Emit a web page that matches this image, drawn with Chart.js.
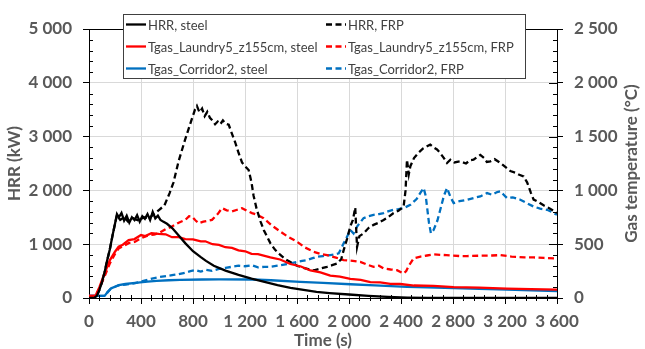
<!DOCTYPE html>
<html>
<head>
<meta charset="utf-8">
<script src="https://cdn.jsdelivr.net/npm/chart.js@4"></script>
<style>
  html, body { margin: 0; padding: 0; background: #fff; }
  canvas { display: block; }
</style>
</head>
<body>
<canvas id="fireChart" width="645" height="349"></canvas>
<script>
// time (s) and HRR (kW)
const hrrSteelT = [0, 40, 60, 80, 100, 120, 140, 160, 180, 200, 215, 230, 250, 270, 290, 310, 330, 350, 370, 390, 410, 430, 450, 470, 490, 510, 530, 550, 570, 600, 640, 690, 740, 800, 860, 900, 960, 1050, 1150, 1250, 1350, 1450, 1550, 1650, 1750, 1850, 2000, 2150, 2300, 2450, 2600, 3600];
const hrrSteel  = [0, 0, 40, 150, 300, 480, 700, 900, 1150, 1380, 1560, 1500, 1580, 1440, 1530, 1400, 1500, 1450, 1540, 1420, 1520, 1470, 1560, 1450, 1600, 1480, 1530, 1450, 1420, 1380, 1300, 1160, 1020, 870, 760, 690, 600, 510, 430, 360, 300, 240, 190, 150, 112, 90, 65, 40, 20, 8, 0, 0];

const hrrFrpT = [0, 40, 60, 80, 100, 120, 140, 160, 180, 200, 215, 240, 270, 300, 340, 380, 420, 460, 500, 540, 580, 620, 650, 690, 740, 790, 815, 830, 850, 870, 890, 910, 930, 950, 970, 990, 1010, 1030, 1050, 1075, 1100, 1125, 1150, 1177, 1200, 1228, 1250, 1266, 1290, 1320, 1345, 1395, 1430, 1472, 1510, 1549, 1600, 1650, 1700, 1730, 1770, 1831, 1870, 1908, 1940, 1959, 1985, 2010, 2030, 2048, 2055, 2062, 2080, 2112, 2150, 2189, 2230, 2266, 2300, 2343, 2380, 2420, 2435, 2446, 2460, 2472, 2500, 2535, 2570, 2600, 2625, 2650, 2677, 2700, 2730, 2754, 2780, 2810, 2856, 2900, 2930, 2958, 2985, 3010, 3040, 3060, 3087, 3120, 3164, 3200, 3241, 3280, 3310, 3343, 3370, 3400, 3420, 3445, 3472, 3500, 3530, 3560, 3600];
const hrrFrp  = [0, 0, 40, 150, 300, 480, 700, 900, 1150, 1380, 1540, 1450, 1500, 1420, 1480, 1440, 1500, 1480, 1560, 1640, 1720, 1950, 2150, 2550, 2950, 3320, 3500, 3570, 3450, 3520, 3380, 3460, 3350, 3300, 3230, 3280, 3230, 3300, 3240, 3220, 3050, 2890, 2700, 2520, 2450, 2380, 2150, 1900, 1650, 1420, 1260, 1020, 900, 800, 720, 670, 600, 560, 530, 515, 540, 580, 610, 640, 720, 890, 1100, 1330, 1450, 1680, 1300, 950, 1150, 1200, 1300, 1360, 1400, 1450, 1500, 1580, 1620, 1700, 2000, 2570, 2300, 2450, 2600, 2700, 2780, 2820, 2850, 2800, 2760, 2700, 2600, 2510, 2570, 2520, 2540, 2500, 2560, 2570, 2620, 2660, 2600, 2530, 2540, 2580, 2510, 2440, 2360, 2330, 2290, 2260, 2150, 1950, 1830, 1800, 1760, 1720, 1680, 1640, 1580];

// time (s) and gas temperature (°C)
const laundrySteelT = [0, 50, 80, 120, 160, 200, 228, 260, 305, 350, 400, 433, 480, 536, 590, 638, 690, 741, 800, 860, 895, 950, 1000, 1049, 1100, 1150, 1202, 1250, 1300, 1395, 1470, 1549, 1630, 1703, 1780, 1856, 1930, 2010, 2090, 2164, 2240, 2318, 2394, 2500, 2650, 2805, 3000, 3215, 3400, 3600];
const laundrySteel  = [20, 20, 100, 230, 350, 430, 477, 495, 539, 548, 585, 576, 603, 595, 592, 565, 566, 548, 545, 526, 527, 500, 494, 472, 466, 442, 434, 410, 408, 378, 358, 316, 293, 256, 238, 208, 198, 178, 168, 148, 145, 132, 130, 116, 112, 101, 97, 87, 83, 78];

const laundryFrpT = [0, 50, 80, 120, 160, 200, 228, 260, 305, 355, 400, 450, 500, 536, 590, 638, 690, 741, 770, 792, 820, 843, 880, 946, 990, 1023, 1060, 1100, 1140, 1177, 1215, 1254, 1300, 1343, 1400, 1472, 1530, 1600, 1660, 1728, 1780, 1831, 1900, 1959, 2030, 2087, 2140, 2189, 2230, 2266, 2320, 2369, 2400, 2420, 2440, 2460, 2472, 2497, 2550, 2600, 2651, 2750, 2850, 2908, 3000, 3100, 3164, 3250, 3350, 3420, 3500, 3600];
const laundryFrp  = [20, 20, 90, 200, 320, 410, 460, 480, 510, 523, 555, 580, 590, 602, 640, 664, 700, 726, 760, 757, 720, 695, 710, 726, 780, 835, 815, 804, 820, 835, 810, 789, 770, 742, 680, 617, 570, 523, 470, 430, 410, 399, 375, 352, 345, 336, 310, 290, 300, 274, 265, 259, 240, 228, 250, 300, 321, 368, 385, 395, 405, 398, 390, 390, 393, 395, 399, 385, 378, 377, 372, 368];

const corridorSteelT = [0, 120, 140, 170, 200, 228, 280, 356, 450, 520, 613, 700, 869, 1000, 1254, 1400, 1625, 1800, 2010, 2200, 2446, 2600, 2805, 3000, 3215, 3400, 3600];
const corridorSteel  = [20, 20, 50, 90, 105, 119, 130, 140, 152, 160, 165, 168, 172, 173, 172, 165, 150, 140, 128, 118, 103, 99, 93, 86, 78, 71, 65];

const corridorFrpT = [0, 120, 140, 170, 200, 228, 280, 356, 420, 485, 540, 600, 650, 690, 740, 780, 818, 860, 900, 946, 1000, 1050, 1100, 1150, 1200, 1254, 1300, 1350, 1395, 1450, 1500, 1549, 1600, 1640, 1677, 1720, 1754, 1800, 1856, 1890, 1921, 1940, 1959, 1985, 2010, 2035, 2062, 2085, 2112, 2150, 2189, 2230, 2266, 2300, 2343, 2380, 2420, 2472, 2520, 2550, 2574, 2590, 2600, 2615, 2630, 2651, 2680, 2702, 2730, 2754, 2780, 2805, 2850, 2908, 2960, 3010, 3062, 3100, 3140, 3164, 3190, 3215, 3260, 3318, 3370, 3420, 3470, 3523, 3560, 3600];
const corridorFrp  = [20, 20, 50, 90, 105, 117, 125, 138, 160, 181, 195, 205, 215, 221, 235, 250, 259, 245, 262, 252, 270, 280, 290, 300, 295, 305, 285, 290, 290, 300, 310, 321, 335, 345, 352, 370, 383, 390, 399, 405, 415, 460, 508, 570, 633, 600, 664, 700, 742, 760, 773, 780, 789, 805, 820, 825, 835, 866, 920, 980, 1022, 950, 850, 700, 602, 633, 720, 820, 950, 1022, 940, 882, 900, 913, 930, 944, 975, 960, 985, 991, 960, 929, 935, 913, 880, 850, 830, 820, 800, 773];

const xTicks = [0, 400, 800, 1200, 1600, 2000, 2400, 2800, 3200, 3600];
const hrrTicks = [0, 1000, 2000, 3000, 4000, 5000];
const tempTicks = [0, 500, 1000, 1500, 2000, 2500];

function pairs(ts, vs) {
    return ts.map((t, i) => ({ x: t, y: vs[i] }));
}

function spaced(v) {
    return String(v).replace(/\B(?=(\d{3})+(?!\d))/g, ' ');
}

const FONT = 'Lato, "Open Sans", sans-serif';
const GREY = '#595959';
const DASH = [6, 3.5];

function line(label, ts, vs, color, dashed, axis) {
    return {
        label: label,
        data: pairs(ts, vs),
        borderColor: color,
        backgroundColor: color,
        borderWidth: 2.3,
        borderDash: dashed ? DASH : [],
        pointRadius: 0,
        tension: 0,
        fill: false,
        yAxisID: axis
    };
}

// Excel style minor ticks
const minorTicks = {
    id: 'minorTicks',
    afterDraw(chart) {
        const c = chart.ctx;
        const x = chart.scales.x, y = chart.scales.y, y2 = chart.scales.y2;
        const area = chart.chartArea;
        c.save();
        c.strokeStyle = '#000';
        c.lineWidth = 1;
        c.beginPath();
        for (let v = 80; v < 3600; v += 80) {
            if (v % 400 === 0) continue;
            const px = Math.round(x.getPixelForValue(v)) + 0.5;
            c.moveTo(px, area.bottom - 3);
            c.lineTo(px, area.bottom + 3);
        }
        for (let v = 200; v < 5000; v += 200) {
            if (v % 1000 === 0) continue;
            const py = Math.round(y.getPixelForValue(v)) + 0.5;
            c.moveTo(area.left, py);
            c.lineTo(area.left + 4, py);
        }
        for (let v = 100; v < 2500; v += 100) {
            const py = Math.round(y2.getPixelForValue(v)) + 0.5;
            c.moveTo(area.right - (v % 500 === 0 ? 8 : 4), py);
            c.lineTo(area.right, py);
        }
        c.stroke();

        // right axis title reads bottom to top, like the left one
        c.fillStyle = GREY;
        c.font = 'bold 17px ' + FONT;
        c.textAlign = 'center';
        c.textBaseline = 'middle';
        c.translate(632, (area.top + area.bottom) / 2);
        c.rotate(-Math.PI / 2);
        c.fillText('Gas temperature (°C)', 0, 0);
        c.restore();
    }
};

// legend box in two columns, drawn over the top of the plot
const boxLegend = {
    id: 'boxLegend',
    afterDraw(chart) {
        const c = chart.ctx;
        const sets = chart.data.datasets;
        const left = 123, top = 14, w = 402, h = 64;
        const cols = [125, 325];
        const rows = [24.5, 46.5, 68.5];
        c.save();
        c.fillStyle = '#fff';
        c.fillRect(left, top, w, h);
        c.strokeStyle = '#404040';
        c.lineWidth = 1;
        c.strokeRect(left + 0.5, top + 0.5, w, h);
        c.font = '13px ' + FONT;
        c.textBaseline = 'middle';
        sets.forEach((ds, i) => {
            const col = cols[Math.floor(i / 3)];
            const row = rows[i % 3];
            c.strokeStyle = ds.borderColor;
            c.lineWidth = 2.3;
            c.setLineDash(ds.borderDash);
            c.beginPath();
            c.moveTo(col + 1, row);
            c.lineTo(col + 21, row);
            c.stroke();
            c.setLineDash([]);
            c.fillStyle = '#404040';
            c.fillText(ds.label, col + 23, row + 1);
        });
        c.restore();
    }
};

const ctx = document.getElementById('fireChart').getContext('2d');

new Chart(ctx, {
    type: 'line',
    data: {
        datasets: [
            line('HRR, steel', hrrSteelT, hrrSteel, '#000000', false, 'y'),
            line('Tgas_Laundry5_z155cm, steel', laundrySteelT, laundrySteel, '#ff0000', false, 'y2'),
            line('Tgas_Corridor2, steel', corridorSteelT, corridorSteel, '#0070c0', false, 'y2'),
            line('HRR, FRP', hrrFrpT, hrrFrp, '#000000', true, 'y'),
            line('Tgas_Laundry5_z155cm, FRP', laundryFrpT, laundryFrp, '#ff0000', true, 'y2'),
            line('Tgas_Corridor2, FRP', corridorFrpT, corridorFrp, '#0070c0', true, 'y2')
        ]
    },
    options: {
        responsive: false,
        animation: false,
        layout: { padding: { top: 29, bottom: 0, left: 0, right: 0 } },
        plugins: {
            legend: { display: false },
            tooltip: { enabled: false }
        },
        scales: {
            x: {
                type: 'linear',
                min: 0,
                max: 3600,
                afterBuildTicks: s => { s.ticks = xTicks.map(v => ({ value: v })); },
                afterFit: s => { s.height = 51; },
                ticks: {
                    color: GREY,
                    font: { family: FONT, size: 17, weight: 'bold' },
                    padding: 7,
                    maxRotation: 0,
                    callback: v => spaced(v)
                },
                grid: { color: '#d9d9d9', tickColor: '#000', tickLength: 6 },
                border: { color: '#000', width: 1 },
                title: {
                    display: true,
                    text: 'Time (s)',
                    color: GREY,
                    font: { family: FONT, size: 17, weight: 'bold', lineHeight: 1 },
                    padding: { top: 0, bottom: 0 }
                }
            },
            y: {
                position: 'left',
                min: 0,
                max: 5000,
                afterBuildTicks: s => { s.ticks = hrrTicks.map(v => ({ value: v })); },
                afterFit: s => { s.width = 89; },
                ticks: {
                    color: GREY,
                    font: { family: FONT, size: 17, weight: 'bold' },
                    padding: 11,
                    callback: v => spaced(v)
                },
                grid: {
                    color: c => (c.tick && c.tick.value === 5000) ? '#000' : '#d9d9d9',
                    tickColor: '#000',
                    tickLength: 6
                },
                border: { color: '#000', width: 1 },
                title: {
                    display: true,
                    text: 'HRR (kW)',
                    color: GREY,
                    font: { family: FONT, size: 17, weight: 'bold', lineHeight: 1 },
                    padding: { top: 6, bottom: 0 }
                }
            },
            y2: {
                position: 'right',
                min: 0,
                max: 2500,
                afterBuildTicks: s => { s.ticks = tempTicks.map(v => ({ value: v })); },
                afterFit: s => { s.width = 88; },
                ticks: {
                    color: GREY,
                    font: { family: FONT, size: 17, weight: 'bold' },
                    padding: 11,
                    callback: v => spaced(v)
                },
                grid: { drawOnChartArea: false, tickColor: '#000', tickLength: 6 },
                border: { color: '#000', width: 1 }
            }
        }
    },
    plugins: [minorTicks, boxLegend]
});
</script>
</body>
</html>
